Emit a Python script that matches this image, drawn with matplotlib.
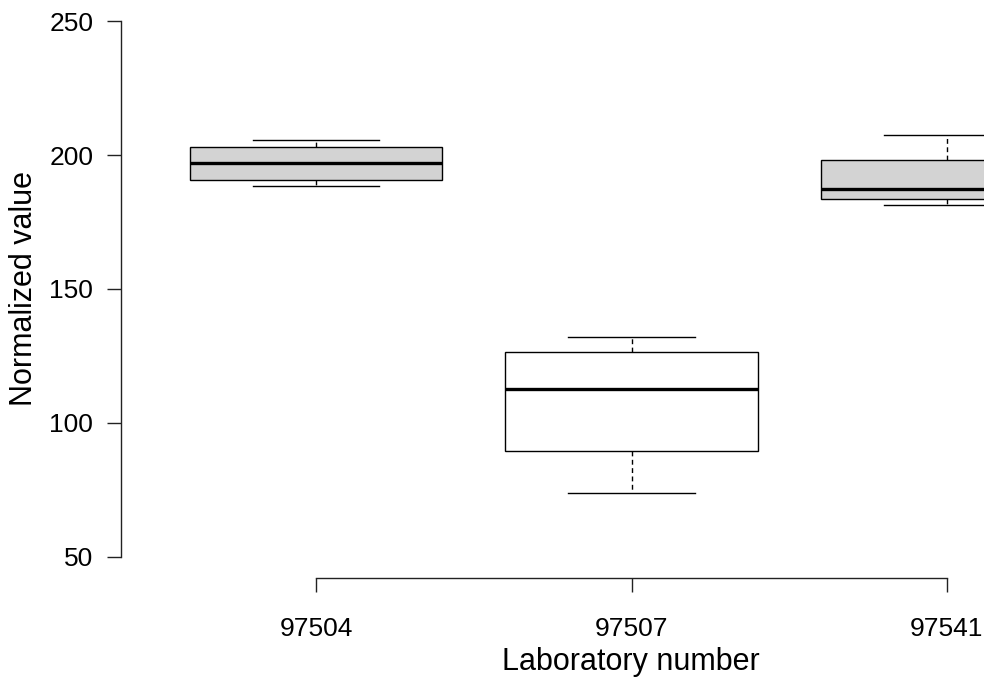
import matplotlib
matplotlib.use("Agg")
import matplotlib.pyplot as plt

plt.rcParams["font.family"] = ["Liberation Sans", "DejaVu Sans"]

# Summary statistics per laboratory
labs = ["97504", "97507", "97541"]
whisker_low = [188.6, 73.9, 181.3]
q1 = [190.9, 89.3, 183.6]
median = [196.9, 112.8, 187.2]
q3 = [203.0, 126.5, 198.2]
whisker_high = [205.5, 132.0, 207.6]
fill_colors = ["#D3D3D3", "#FFFFFF", "#D3D3D3"]

yticks = [50, 100, 150, 200, 250]

W, H = 984, 686
fig = plt.figure(figsize=(W / 100, H / 100), dpi=100)

# Plot region (extends past the right edge of the canvas)
left_px, right_px, bottom_px, top_px = 121, 1142, 578, 0
ax = fig.add_axes([left_px / W, 1 - bottom_px / H,
                   (right_px - left_px) / W, (bottom_px - top_px) / H])

stats = []
for i, lab in enumerate(labs):
    stats.append(dict(label=lab, whislo=whisker_low[i], q1=q1[i], med=median[i],
                      q3=q3[i], whishi=whisker_high[i], fliers=[]))

positions = list(range(1, len(labs) + 1))
res = ax.bxp(stats, positions=positions, widths=0.8, patch_artist=True,
             showfliers=False,
             boxprops=dict(edgecolor="black", linewidth=1.0),
             medianprops=dict(color="black", linewidth=2.4, solid_capstyle="butt"),
             whiskerprops=dict(color="black", linewidth=1.0, linestyle=(0, (3.5, 2.5))),
             capprops=dict(color="black", linewidth=1.0),
             capwidths=0.4)
for patch, c in zip(res["boxes"], fill_colors):
    patch.set_facecolor(c)

ax.set_xlim(0.38, 3.62)
ax.set_ylim(42, 258)

for s in ["top", "right"]:
    ax.spines[s].set_visible(False)
ax.spines["left"].set_bounds(50, 250)
ax.spines["bottom"].set_bounds(1, 3)
for s in ["left", "bottom"]:
    ax.spines[s].set_linewidth(1.0)
    ax.spines[s].set_color("#222222")

ax.set_yticks(yticks)
ax.set_yticklabels([str(v) for v in yticks])
ax.set_xticks(positions)
ax.set_xticklabels(labs)
ax.tick_params(axis="both", direction="out", length=10, width=1.0,
               color="#222222", labelsize=19)
ax.tick_params(axis="y", pad=10)
ax.tick_params(axis="x", pad=18)

fig.text(24 / W, 1 - 289 / H, "Normalized value", rotation=90,
         ha="center", va="center", fontsize=22)
fig.text(631 / W, 1 - 662 / H, "Laboratory number",
         ha="center", va="center", fontsize=22)

fig.savefig("out.png", dpi=100)
